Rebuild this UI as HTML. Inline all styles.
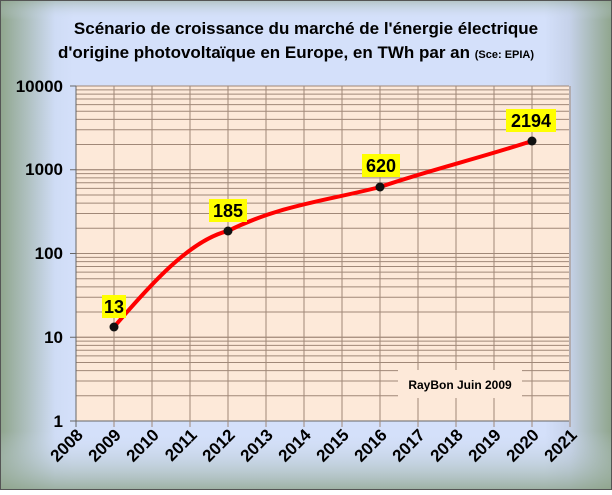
<!DOCTYPE html>
<html><head><meta charset="utf-8"><style>
html,body{margin:0;padding:0;}
body{width:612px;height:490px;overflow:hidden;}
</style></head><body>
<svg width="612" height="490" xmlns="http://www.w3.org/2000/svg" font-family="Liberation Sans, Arial, sans-serif">
<defs>
<linearGradient id="gh" x1="0" x2="1" y1="0" y2="0">
<stop offset="0" stop-color="#8fa58c"/><stop offset="0.09" stop-color="#cfdcf5"/><stop offset="0.12" stop-color="#d4e0fa"/><stop offset="0.89" stop-color="#d4e0fa"/><stop offset="0.93" stop-color="#c6d2ea"/><stop offset="1" stop-color="#8fa58c"/>
</linearGradient>
<linearGradient id="gv" x1="0" x2="0" y1="0" y2="1">
<stop offset="0" stop-color="#8fa58c" stop-opacity="0.5"/><stop offset="0.04" stop-color="#d4e0fa" stop-opacity="0"/><stop offset="0.88" stop-color="#d4e0fa" stop-opacity="0"/><stop offset="1" stop-color="#8fa58c" stop-opacity="0.8"/>
</linearGradient>
</defs>
<rect x="0" y="0" width="612" height="490" fill="url(#gh)"/>
<rect x="0" y="0" width="612" height="490" fill="url(#gv)"/>
<rect x="0.5" y="0.5" width="611" height="489" fill="none" stroke="#555" stroke-width="1"/>
<text x="306" y="34" text-anchor="middle" font-size="17" font-weight="bold">Scénario de croissance du marché de l'énergie électrique</text>
<text x="296" y="58" text-anchor="middle" font-size="17" font-weight="bold">d'origine photovoltaïque en Europe, en TWh par an <tspan font-size="11">(Sce: EPIA)</tspan></text>
<rect x="76" y="86" width="493" height="335" fill="#fde9d9"/>
<g stroke="#a08878" stroke-width="1" id="grid"></g>
<g font-size="17" font-weight="bold" text-anchor="end">
<text x="63" y="92">10000</text><text x="63" y="175">1000</text><text x="63" y="259">100</text><text x="63" y="343">10</text><text x="63" y="427">1</text>
</g>
<g id="xl" font-size="17" font-weight="bold" text-anchor="end"></g>
<rect x="398" y="370" width="124" height="28" fill="#fde9d9"/>
<text x="460" y="389" text-anchor="middle" font-size="12" font-weight="bold">RayBon Juin 2009</text>
<path d="M114,327 C150,285 190,240 228,231 C280,205 330,200 380,187 C430,170 480,158 532,141" fill="none" stroke="#ff0000" stroke-width="4"/>
<g fill="#111"><circle cx="114" cy="327" r="4.5"/><circle cx="228" cy="231" r="4.5"/><circle cx="380" cy="187" r="4.5"/><circle cx="532" cy="141" r="4.5"/></g>
<g fill="#ffff00"><rect x="102" y="295" width="24" height="23"/><rect x="209" y="199" width="38" height="23"/><rect x="362" y="154" width="38" height="23"/><rect x="506" y="109" width="50" height="23"/></g>
<g font-size="18" font-weight="bold" text-anchor="middle"><text x="114" y="313">13</text><text x="228" y="217">185</text><text x="381" y="172">620</text><text x="531" y="127">2194</text></g>
</svg>
<script>
var g=document.getElementById('grid'),ns='http://www.w3.org/2000/svg';
function ln(x1,y1,x2,y2,c){var l=document.createElementNS(ns,'line');l.setAttribute('x1',x1);l.setAttribute('y1',y1);l.setAttribute('x2',x2);l.setAttribute('y2',y2);if(c)l.setAttribute('stroke',c);g.appendChild(l);}
for(var d=0;d<4;d++){for(var k=1;k<=10;k++){var y=421-83.75*(d+Math.log10(k));ln(76,y,569,y);}}
ln(70,421,569,421,'#666');for(d=0;d<=4;d++)ln(70,421-83.75*d,76,421-83.75*d,'#666');
ln(76,86,76,421,'#666');
for(var i=1;i<=13;i++){var x=76+38*i;ln(x,86,x,427);}
ln(76,421,76,427,'#666');
var xl=document.getElementById('xl');
for(i=0;i<=13;i++){var x=76+38*i+8,y=436;var t=document.createElementNS(ns,'text');t.setAttribute('transform','translate('+x+','+y+') rotate(-45)');t.textContent=2008+i;xl.appendChild(t);}
</script>
</body></html>
